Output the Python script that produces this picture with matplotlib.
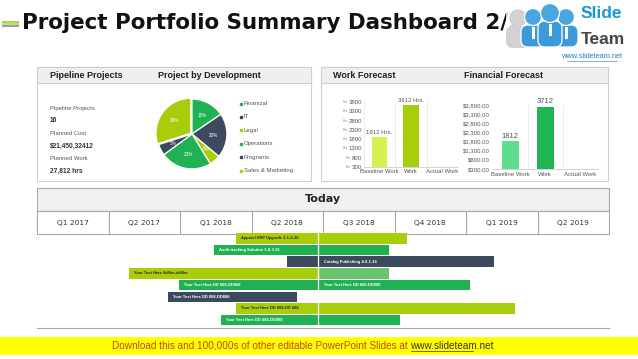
import matplotlib.pyplot as plt
from matplotlib.patches import Rectangle, Circle, FancyBboxPatch

W, H = 638, 359

# pie: project by development
pie_names = ['Financial', 'IT', 'Legal', 'Operations', 'Programs', 'Sales & Marketing']
pie_values = [15, 20, 5, 23, 5, 29]

# pipeline summary
summary_labels = ['Pipeline Projects', 'Planned Cost', 'Planned Work']
summary_values = ['16', '$21,450,32412', '27,812 hrs']

# forecasts
work_cats = ['Baseline Work', 'Work', 'Actual Work']
work_hours = [1912, 3612, 0]
work_ticks = [300, 800, 1300, 1800, 2300, 2800, 3300, 3800]
fin_cats = ['Baseline Work', 'Work', 'Actual Work']
fin_values = [1812, 3712, 0]
fin_ticks = [300, 800, 1300, 1800, 2300, 2800, 3300, 3800]

# timeline (x in quarter units)
quarters = ['Q1 2017', 'Q2 2017', 'Q1 2018', 'Q2 2018', 'Q3 2018', 'Q4 2018', 'Q1 2019', 'Q2 2019']
today = 3.93
task_start = [2.79, 2.47, 3.50, 1.28, 1.98, 1.83, 2.79, 2.57]
task_end = [5.18, 4.92, 6.39, 4.92, 6.06, 3.64, 6.68, 5.08]
task_left_text = ['Apparel ERP Upgrade 3-1-6-30', 'Audit tracking Solution 1-8-3-15', '',
                  'Your Text Here 0d/6m-dd/6m', 'Your Text Here DD 888-DD888',
                  'Your Text Here DD 888-DD888', 'Your Text Here DD 888-DD 888',
                  'Your Text Here DD 888-DD888']
task_right_text = ['', '', 'Catalog Publishing 4-8-1-16', '', 'Your Text Here DD 888-DD888',
                   '', '', '']

LIME = '#a8cd0a'
GREEN = '#20b153'
DARK = '#3d4a5e'
LIGHTGREEN = '#6cc36e'
pie_colors = [GREEN, DARK, LIME, GREEN, DARK, LIME]
task_left_color = [LIME, GREEN, DARK, LIME, GREEN, DARK, LIME, GREEN]
task_right_color = [LIME, GREEN, DARK, LIGHTGREEN, GREEN, DARK, LIME, GREEN]

plt.rcParams['font.family'] = ['Liberation Sans', 'DejaVu Sans']

fig = plt.figure(figsize=(W / 100, H / 100), dpi=100)
fig.patch.set_facecolor('white')


def px(x0, y0, x1, y1):
    return [x0 / W, 1 - y1 / H, (x1 - x0) / W, (y1 - y0) / H]


ax0 = fig.add_axes([0, 0, 1, 1])
ax0.set_xlim(0, W)
ax0.set_ylim(H, 0)
ax0.axis('off')

# title with little stripes
for yy, c in zip([21.5, 23.5, 25.5], ['#9ccf4a', '#d2d93a', '#6a9fd0']):
    ax0.plot([2, 19], [yy, yy], color=c, lw=1.3, solid_capstyle='butt')
title = ax0.text(22, 23, 'Project Portfolio Summary Dashboard 2/2', fontsize=15.4,
                 fontweight='bold', color='#111111', va='center', ha='left',
                 family='DejaVu Sans', zorder=2)

# logo
ax0.add_patch(FancyBboxPatch((506, 26), 24, 22, boxstyle='round,pad=0,rounding_size=7',
                             fc='#d2d2d2', ec='none', zorder=5))
ax0.add_patch(Circle((518, 18), 8, color='#d2d2d2', zorder=5))
ax0.add_patch(Rectangle((506, 8), 14, 22, fc='white', ec='none', alpha=0.75, zorder=4))
for cx, cy, r in [(533, 17, 8.5), (566, 17, 8.5), (550, 13, 9.5)]:
    ax0.add_patch(FancyBboxPatch((cx - 12, cy + 8), 24, 47 - cy - 8,
                                 boxstyle='round,pad=0,rounding_size=7',
                                 fc='#3b9ad8', ec='white', lw=0.9, zorder=6))
    ax0.add_patch(Circle((cx, cy), r, fc='#4aa6e0', ec='white', lw=0.9, zorder=7))
    ax0.add_patch(Rectangle((cx - 1.5, cy + r + 1), 3, 12, fc='white', ec='none', zorder=7))
ax0.text(581, 13, 'Slide', fontsize=12.5, fontweight='bold', color='#1a96d6', va='center', zorder=8)
ax0.text(581, 40, 'Team', fontsize=12.5, fontweight='bold', color='#444444', va='center', zorder=8)
ax0.text(592, 57, 'www.slideteam.net', fontsize=5.3, color='#2a7fc0', va='center', ha='center',
         zorder=8)
ax0.plot([567, 617], [60.5, 60.5], color='#2a7fc0', lw=0.4)

# panels
for x0, x1 in [(37, 311), (321, 608)]:
    ax0.add_patch(Rectangle((x0, 67), x1 - x0, 114, fc='white', ec='#cfcfcf', lw=0.8))
    ax0.add_patch(Rectangle((x0, 67), x1 - x0, 16, fc='#efefef', ec='#cfcfcf', lw=0.8))
hdr = dict(fontsize=6.5, fontweight='bold', color='#222222', va='center')
ax0.text(50, 75.5, 'Pipeline Projects', **hdr)
ax0.text(158, 75.5, 'Project by Development', **hdr)
ax0.text(333, 75.5, 'Work Forecast', **hdr)
ax0.text(464, 75.5, 'Financial Forecast', **hdr)

for i, (lab, val) in enumerate(zip(summary_labels, summary_values)):
    y = 108.5 + i * 25
    ax0.text(50, y, lab, fontsize=4.3, color='#555555', va='center')
    ax0.text(50, y + 12.5, val, fontsize=4.8, fontweight='bold', color='#333333', va='center')

for i, (name, c) in enumerate(zip(pie_names, pie_colors)):
    y = 103.5 + i * 13.4
    ax0.plot(241, y, 's', ms=1.5, color=c)
    ax0.text(244, y, name, fontsize=4.3, color='#555555', va='center')

# pie
axp = fig.add_axes(px(155, 97, 229, 171))
total = sum(pie_values)
axp.pie(pie_values, colors=pie_colors, startangle=90, counterclock=False,
        explode=[0, 0, 0, 0, 0, 0.04],
        wedgeprops=dict(edgecolor='white', linewidth=0.9),
        autopct=lambda p: f'{p * total / 100:.0f}%', pctdistance=0.6,
        textprops=dict(color='white', fontsize=3.3))
axp.set_xlim(-1.06, 1.06)
axp.set_ylim(-1.06, 1.06)
axp.set_aspect('equal')

# work forecast
axw = fig.add_axes(px(363.75, 102, 458.25, 167))
axw.bar(range(len(work_cats)), work_hours, width=0.5, color=['#d6f04d', '#a6cf08', '#a6cf08'])
axw.set_ylim(300, 3800)
axw.set_xlim(-0.5, 2.5)
axw.set_yticks(work_ticks)
axw.set_yticklabels([str(v) for v in work_ticks], fontsize=4.3, color='#555555')
for v in work_ticks:
    off = 1 + len(str(v)) * 0.556 * 4.3 + 0.8
    axw.annotate('Hrs', xy=(0, v), xycoords=axw.get_yaxis_transform(), xytext=(-off, 0),
                 textcoords='offset points', fontsize=2.3, color='#777777',
                 va='center', ha='right')
axw.tick_params(axis='y', length=0, pad=1)
axw.set_xticks(range(len(work_cats)))
axw.set_xticklabels(work_cats, fontsize=4.3, color='#555555')
axw.tick_params(axis='x', length=0, pad=1.5)
for v in [-0.5, 0.5, 1.5, 2.5]:
    axw.axvline(v, color='#e8e8e8', lw=0.6, zorder=0)
for s in ['top', 'right', 'left']:
    axw.spines[s].set_visible(False)
axw.spines['bottom'].set_color('#cccccc')
axw.spines['bottom'].set_linewidth(0.6)
for i, v in enumerate(work_hours):
    if v:
        axw.text(i, v + 120, f'{v} Hrs.', fontsize=4.3, color='#555555', ha='center', va='bottom')

# financial forecast
axf = fig.add_axes(px(492.8, 105, 597.8, 169))
axf.bar(range(len(fin_cats)), fin_values, width=0.5, color=['#5ede8c', '#1fb552', '#d6e86a'])
axf.set_ylim(300, 3800)
axf.set_xlim(-0.5, 2.5)
axf.set_yticks(fin_ticks)
axf.set_yticklabels([f'${v:,.2f}' for v in fin_ticks], fontsize=4.3, color='#555555')
axf.tick_params(axis='y', length=0, pad=2)
axf.set_xticks(range(len(fin_cats)))
axf.set_xticklabels(fin_cats, fontsize=4.3, color='#555555')
axf.tick_params(axis='x', length=0, pad=2)
for v in [0.5, 1.5, 2.5]:
    axf.axvline(v, color='#e8e8e8', lw=0.6, zorder=0)
for s in ['top', 'right', 'left']:
    axf.spines[s].set_visible(False)
axf.spines['bottom'].set_color('#cccccc')
axf.spines['bottom'].set_linewidth(0.6)
for i, v in enumerate(fin_values):
    if v:
        axf.text(i, v + 100, str(v), fontsize=5.5, color='#555555', ha='center', va='bottom')

# timeline header
ax0.add_patch(Rectangle((37, 188), 572, 23, fc='#f0f0f0', ec='#a8a8a8', lw=0.8))
ax0.add_patch(Rectangle((37, 211), 572, 23, fc='white', ec='#a8a8a8', lw=0.8))
ax0.text(323, 199.5, 'Today', fontsize=8, fontweight='bold', color='#222222',
         ha='center', va='center', family='DejaVu Sans')

axq = fig.add_axes(px(37, 211, 609, 234))
axq.set_xlim(0, len(quarters))
axq.set_ylim(1, 0)
axq.axis('off')
for i, q in enumerate(quarters):
    axq.text(i + 0.5, 0.5, q, fontsize=5.3, color='#333333', ha='center', va='center',
             family='DejaVu Sans')
    if i:
        axq.plot([i, i], [0, 1], color='#a8a8a8', lw=0.8)

axg = fig.add_axes(px(37, 232.5, 609, 326))
axg.set_xlim(0, len(quarters))
axg.set_ylim(len(task_start), 0)
axg.axis('off')
for i in range(len(task_start)):
    y = i + 0.5
    s, e = task_start[i], task_end[i]
    axg.barh(y, min(e, today) - s, left=s, height=0.9, color=task_left_color[i])
    if e > today:
        axg.barh(y, e - max(s, today), left=max(s, today), height=0.9,
                 color=task_right_color[i])
    tc = '#2b2b2b' if task_left_color[i] == LIME else 'white'
    if task_left_text[i]:
        axg.text(s + 0.07, y, task_left_text[i], fontsize=2.9, fontweight='bold',
                 color=tc, va='center')
    if task_right_text[i]:
        axg.text(today + 0.08, y, task_right_text[i], fontsize=2.9, fontweight='bold',
                 color='white', va='center')
axg.plot([today, today], [0, len(task_start)], color='white', lw=0.9)
ax0.plot([37, 609], [327.5, 327.5], color='#a8a8a8', lw=0.8)

# footer
ax0.add_patch(Rectangle((0, 337), W, 18, fc='#ffff00', ec='none'))
foot = ax0.text(112, 346, 'Download this and 100,000s of other editable PowerPoint Slides at ',
                fontsize=7.2, color='#c8411b', va='center')
fig.canvas.draw()
bb = foot.get_window_extent()
xe = bb.x1
ax0.text(xe, 346, 'www.slideteam.net', fontsize=7.2, color='#333333', va='center')
ax0.plot([xe + 0.5, xe + 62], [350.5, 350.5], color='#333333', lw=0.5)

fig.savefig('out.png', dpi=100)
